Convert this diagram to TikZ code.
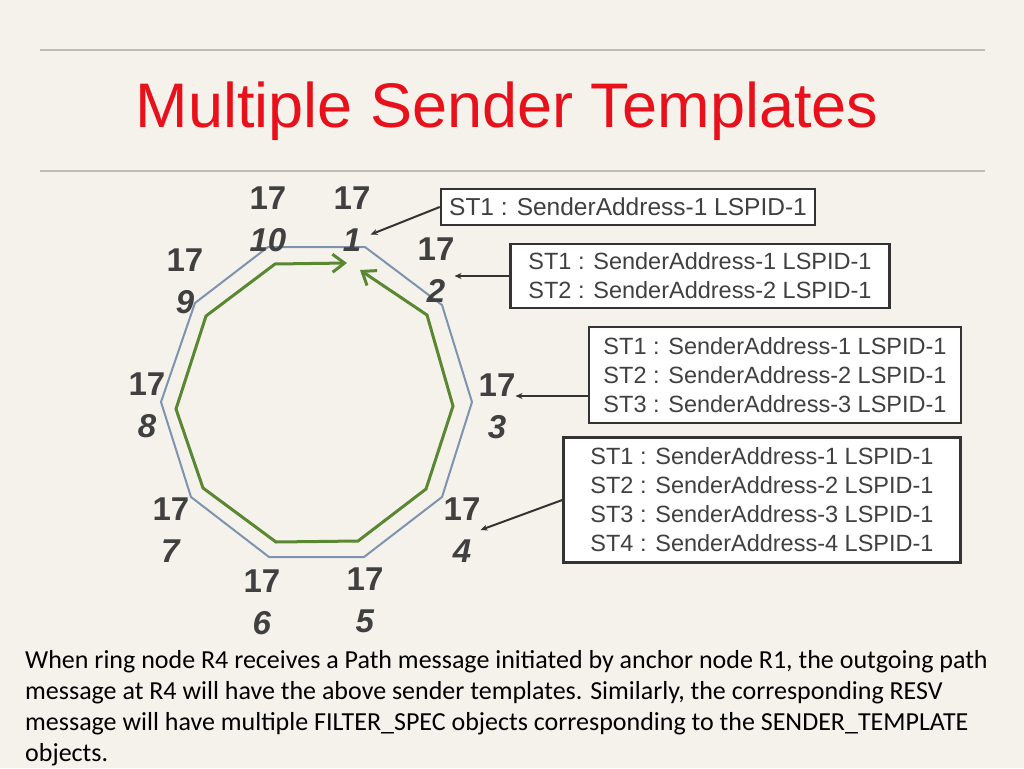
\documentclass[tikz,border=0pt]{standalone}
\usepackage{fontspec}
\setmainfont{Carlito}
\newfontfamily\arialfont{Liberation Sans}
\usetikzlibrary{arrows.meta}

\definecolor{paper}{RGB}{245,242,236}
\definecolor{rulegrey}{RGB}{192,189,184}
\definecolor{titlered}{RGB}{232,16,26}
\definecolor{labgrey}{RGB}{64,64,64}
\definecolor{boxgrey}{RGB}{51,51,51}
\definecolor{ringblue}{RGB}{126,147,174}
\definecolor{flowgreen}{RGB}{90,135,50}

\begin{document}
\begin{tikzpicture}[x=1pt, y=-1pt,
  router/.style={font=\arialfont\fontsize{33}{42}\selectfont\bfseries, text=labgrey, align=center, inner sep=0pt},
  stbox/.style={draw=boxgrey, line width=2.5pt, fill=white, align=center, inner sep=0pt, font=\arialfont\fontsize{23.5}{29}\selectfont, text=labgrey},
  ptr/.style={-{Stealth[length=7pt,width=6pt]}, line width=2pt, draw=boxgrey},
  ring/.style={draw=ringblue, line width=2pt},
  flow/.style={draw=flowgreen, line width=3pt, {Straight Barb[length=12pt,width=18pt]}-{Straight Barb[length=12pt,width=18pt]}},
  rule/.style={draw=rulegrey, line width=2pt}]
\fill[paper] (0,0) rectangle (1024,768);
\useasboundingbox (0,0) rectangle (1024,768);
\draw[rule] (40,50) -- (985,50);
\draw[rule] (40,171) -- (985,171);
\node[font=\arialfont\fontsize{63}{70}\selectfont, text=titlered, inner sep=0pt, anchor=base] (title) at (507,127) {Multiple Sender Templates};
% ring and flow
\draw[ring] (268,247) -- (365,247) -- (442,305) -- (472,402) -- (442,497) -- (364,557) -- (269,557) -- (191,497) -- (161,402) -- (195,303) -- cycle;
\draw[flow] (360,270) -- (427,315) -- (453,406) -- (426,489) -- (358,541) -- (276,542) -- (203,488) -- (176,409) -- (206,316) -- (275,264) -- (347,263);
% routers
\node[router] (r1) at (352,219) {17\\\textit{1}};
\node[router] (r2) at (436,270) {17\\\textit{2}};
\node[router] (r3) at (497,406) {17\\\textit{3}};
\node[router] (r4) at (462,530) {17\\\textit{4}};
\node[router] (r5) at (365,600) {17\\\textit{5}};
\node[router] (r6) at (262,602) {17\\\textit{6}};
\node[router] (r7) at (171,530) {17\\\textit{7}};
\node[router] (r8) at (147,405) {17\\\textit{8}};
\node[router] (r9) at (185,281) {17\\\textit{9}};
\node[router] (r10) at (268,219) {17\\\textit{10}};
% sender templates
\node[stbox, font=\arialfont\fontsize{24.5}{29}\selectfont, minimum width=374, minimum height=36] (st1) at (628,207) {ST1 : SenderAddress-1 LSPID-1};
\node[stbox, minimum width=379, minimum height=64] (st2) at (700,276) {ST1 : SenderAddress-1 LSPID-1\\ST2 : SenderAddress-2 LSPID-1};
\node[stbox, minimum width=372, minimum height=96] (st3) at (775,375) {ST1 : SenderAddress-1 LSPID-1\\ST2 : SenderAddress-2 LSPID-1\\ST3 : SenderAddress-3 LSPID-1};
\node[stbox, minimum width=397, minimum height=125] (st4) at (762,500) {ST1 : SenderAddress-1 LSPID-1\\ST2 : SenderAddress-2 LSPID-1\\ST3 : SenderAddress-3 LSPID-1\\ST4 : SenderAddress-4 LSPID-1};
\draw[ptr] (st1.west) -- (r1.-40);
\draw[ptr] (st2.west) -- (r2.east |- st2.west);
\draw[ptr] ([yshift=-21pt]st3.west) -- (r3.east |- 0,396);
\draw[ptr] (st4.west) -- (r4.east);
% note
\node[font=\fontsize{26}{31}\selectfont, text=black, align=left, inner sep=0pt, anchor=base west] (note) at (25,761) {When ring node R4 receives a Path message initiated by anchor node R1, the outgoing path\\message at R4 will have the above sender templates. Similarly, the corresponding RESV\\message will have multiple FILTER\_SPEC objects corresponding to the SENDER\_TEMPLATE\\objects.};
\end{tikzpicture}
\end{document}
